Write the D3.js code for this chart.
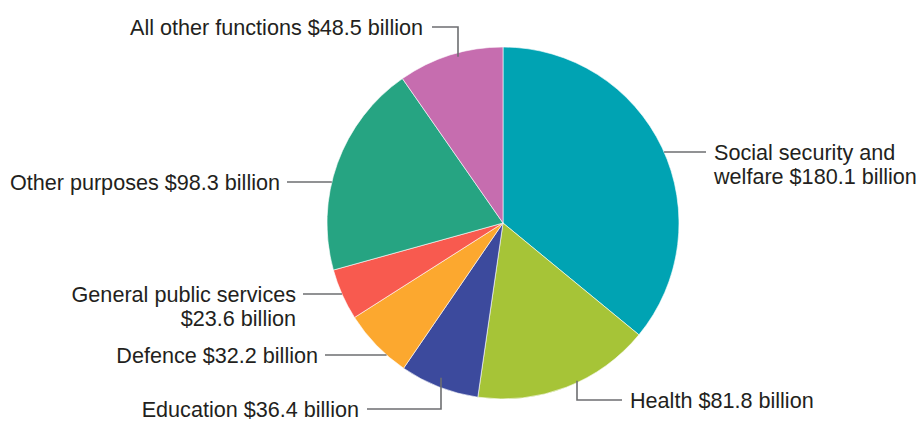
<!DOCTYPE html>
<html>
<head>
<meta charset="utf-8">
<script src="https://cdn.jsdelivr.net/npm/d3@7"></script>
<style>
  html, body { margin: 0; padding: 0; background: #fff; }
  svg { display: block; }
  text { font-family: "Liberation Sans", Arial, Helvetica, sans-serif; fill: #231f20; }
</style>
</head>
<body>
<svg id="chart" width="917" height="421"></svg>
<script>
// Spending by function, $ billion (clockwise from 12 o'clock)
const categories = [
  "Social security and welfare",
  "Health",
  "Education",
  "Defence",
  "General public services",
  "Other purposes",
  "All other functions"
];
const values = [180.1, 81.8, 36.4, 32.2, 23.6, 98.3, 48.5];
const colors = ["#00a3b3", "#a6c437", "#3c4a9d", "#fca82f", "#f85a4f", "#26a482", "#c66daf"];

// Label text lines for each slice
const labelLines = [
  ["Social security and", "welfare $180.1 billion"],
  ["Health $81.8 billion"],
  ["Education $36.4 billion"],
  ["Defence $32.2 billion"],
  ["General public services", "$23.6 billion"],
  ["Other purposes $98.3 billion"],
  ["All other functions $48.5 billion"]
];

const width = 917, height = 421;
const cx = 503, cy = 223, radius = 176;
const fontSize = 21.6, lineHeight = 24;

// Label placement: text anchor point plus leader route
// kind "h": horizontal leader from text to the pie rim at the same y
// kind "elbow": horizontal leader to x = bendX, then vertical to the rim
const labelLayout = [
  { x: 714, y: 152, anchor: "start", kind: "h", lineStart: 706 },
  { x: 630, y: 400, anchor: "start", kind: "elbow", lineStart: 622, bendX: 577, inset: 2 },
  { x: 359, y: 409, anchor: "end", kind: "elbow", lineStart: 367, bendX: 441, inset: 10 },
  { x: 318, y: 355, anchor: "end", kind: "h", lineStart: 325 },
  { x: 296, y: 294, anchor: "end", kind: "h", lineStart: 303 },
  { x: 280, y: 182, anchor: "end", kind: "h", lineStart: 287 },
  { x: 423, y: 27, anchor: "end", kind: "elbow", lineStart: 432, bendX: 458, inset: 4 }
];

const svg = d3.select("#chart");

const data = categories.map((c, i) => ({ name: c, value: values[i], color: colors[i], lines: labelLines[i], layout: labelLayout[i] }));

const pie = d3.pie().sort(null).value(d => d.value);
const arc = d3.arc().innerRadius(0).outerRadius(radius);

const g = svg.append("g").attr("transform", `translate(${cx},${cy})`);
g.selectAll("path.slice")
  .data(pie(data))
  .join("path")
  .attr("class", "slice")
  .attr("d", arc)
  .attr("fill", d => d.data.color)
  .attr("stroke", "#ffffff")
  .attr("stroke-width", 0.6);

// Point on the rim for a horizontal leader at height y, on the label's side
function rimX(y, side) {
  const dy = y - cy;
  return cx + side * Math.sqrt(Math.max(0, radius * radius - dy * dy));
}
function rimY(x, up) {
  const dx = x - cx;
  return cy + (up ? -1 : 1) * Math.sqrt(Math.max(0, radius * radius - dx * dx));
}

const leaders = svg.append("g")
  .attr("fill", "none")
  .attr("stroke", "#6d6e71")
  .attr("stroke-width", 1.6);

data.forEach(d => {
  const L = d.layout;
  let pts;
  if (L.kind === "h") {
    const side = L.anchor === "start" ? 1 : -1;
    pts = [[L.lineStart, L.y], [rimX(L.y, side), L.y]];
  } else {
    const up = L.y < cy;
    const ry = rimY(L.bendX, up) + (up ? L.inset : -L.inset);
    pts = [[L.lineStart, L.y], [L.bendX, L.y], [L.bendX, ry]];
  }
  leaders.append("path").attr("d", d3.line()(pts));
});

const labels = svg.append("g").attr("font-size", fontSize);
data.forEach(d => {
  const L = d.layout;
  const t = labels.append("text")
    .attr("text-anchor", L.anchor)
    .attr("x", L.x)
    .attr("y", L.y);
  d.lines.forEach((line, i) => {
    t.append("tspan")
      .attr("x", L.x)
      .attr("dy", i === 0 ? "0.36em" : lineHeight)
      .text(line);
  });
});
</script>
</body>
</html>
